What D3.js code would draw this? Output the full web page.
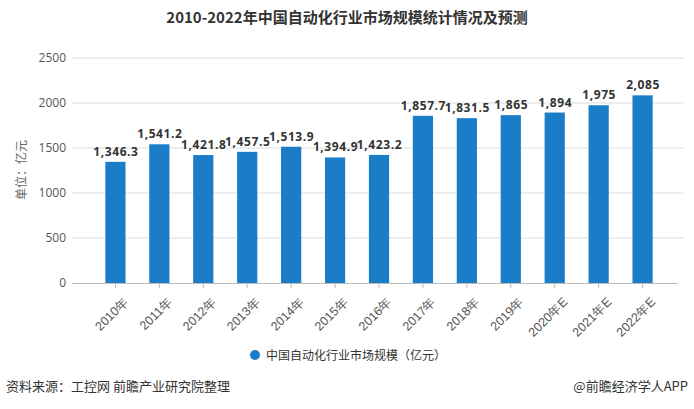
<!DOCTYPE html>
<html>
<head>
<meta charset="utf-8">
<script src="https://cdn.jsdelivr.net/npm/d3@7"></script>
<style>
  body { margin: 0; background: #fff; }
  svg { font-family: "Noto Sans CJK SC", "Noto Sans", sans-serif; }
</style>
</head>
<body>
<div id="chart"></div>
<script>
// data
const years = ['2010年', '2011年', '2012年', '2013年', '2014年', '2015年', '2016年',
    '2017年', '2018年', '2019年', '2020年E', '2021年E', '2022年E'];
const marketSize = [1346.3, 1541.2, 1421.8, 1457.5, 1513.9, 1394.9, 1423.2,
    1857.7, 1831.5, 1865, 1894, 1975, 2085];
const yTicks = [0, 500, 1000, 1500, 2000, 2500];

function drawChart() {
    const width = 694;
    const height = 409;
    const svg = d3.select("#chart")
        .append("svg")
        .attr("width", width)
        .attr("height", height);

    const x = d3.scaleBand()
        .domain(years)
        .range([81.6, 676.4])
        .padding(0.54);

    const y = d3.scaleLinear()
        .domain([0, 2500])
        .range([283, 58]);

    // title
    svg.append("text")
        .attr("x", 347)
        .attr("y", 23)
        .attr("text-anchor", "middle")
        .attr("font-size", 15)
        .attr("font-weight", "bold")
        .attr("fill", "#333")
        .text("2010-2022年中国自动化行业市场规模统计情况及预测");

    // gridlines
    svg.append("g")
        .selectAll("line")
        .data(yTicks.filter(d => d > 0))
        .enter()
        .append("line")
        .attr("x1", 72)
        .attr("x2", 683)
        .attr("y1", d => y(d))
        .attr("y2", d => y(d))
        .attr("stroke", "#ddd");

    // y axis
    const yAxis = svg.append("g")
        .attr("transform", "translate(72,0)")
        .call(d3.axisLeft(y).tickValues(yTicks).tickFormat(d3.format("d")).tickSize(0).tickPadding(6));
    yAxis.select(".domain").remove();
    yAxis.selectAll("text")
        .attr("font-size", 12)
        .attr("fill", "#555")
        .style("font-family", "'Open Sans', 'Noto Sans', sans-serif");

    svg.append("text")
        .attr("transform", "translate(26,170) rotate(-90)")
        .attr("text-anchor", "middle")
        .attr("font-size", 12)
        .attr("fill", "#666")
        .text("单位：亿元");

    // bars
    svg.selectAll(".bar")
        .data(marketSize)
        .enter()
        .append("rect")
        .attr("class", "bar")
        .attr("x", (d, i) => x(years[i]))
        .attr("y", d => y(d))
        .attr("width", x.bandwidth())
        .attr("height", d => y(0) - y(d))
        .attr("fill", "#1b7dc8");

    // value labels
    svg.selectAll(".val")
        .data(marketSize)
        .enter()
        .append("text")
        .attr("class", "val")
        .attr("x", (d, i) => x(years[i]) + x.bandwidth() / 2 + 0.5)
        .attr("y", d => y(d) - 6)
        .attr("text-anchor", "middle")
        .attr("font-size", 12)
        .attr("font-weight", "bold")
        .attr("letter-spacing", 0.6)
        .attr("fill", "#333")
        .style("font-family", "'Open Sans', 'Noto Sans', sans-serif")
        .text(d => d3.format(",")(d));

    // x axis
    const xAxis = svg.append("g")
        .attr("transform", "translate(0,283)")
        .call(d3.axisBottom(x).tickSize(5).tickSizeOuter(0));
    xAxis.select(".domain")
        .attr("d", "M72,0.5H678")
        .attr("stroke", "#bbb");
    xAxis.selectAll(".tick line").attr("stroke", "#bbb");
    xAxis.selectAll("text")
        .attr("font-size", 12.5)
        .attr("fill", "#555")
        .attr("text-anchor", "end")
        .attr("dy", 0)
        .attr("transform", "translate(8,14) rotate(-45)");

    // legend
    svg.append("circle")
        .attr("cx", 255)
        .attr("cy", 355)
        .attr("r", 5)
        .attr("fill", "#1b7dc8");
    svg.append("text")
        .attr("x", 266)
        .attr("y", 359.5)
        .attr("font-size", 12)
        .attr("fill", "#333")
        .text("中国自动化行业市场规模（亿元）");

    // footer
    svg.append("text")
        .attr("x", 6)
        .attr("y", 391)
        .attr("font-size", 13)
        .attr("fill", "#333")
        .text("资料来源：工控网 前瞻产业研究院整理");
    svg.append("text")
        .attr("x", 688)
        .attr("y", 391)
        .attr("text-anchor", "end")
        .attr("font-size", 13)
        .attr("fill", "#333")
        .text("@前瞻经济学人APP");
}

drawChart();
</script>
</body>
</html>
